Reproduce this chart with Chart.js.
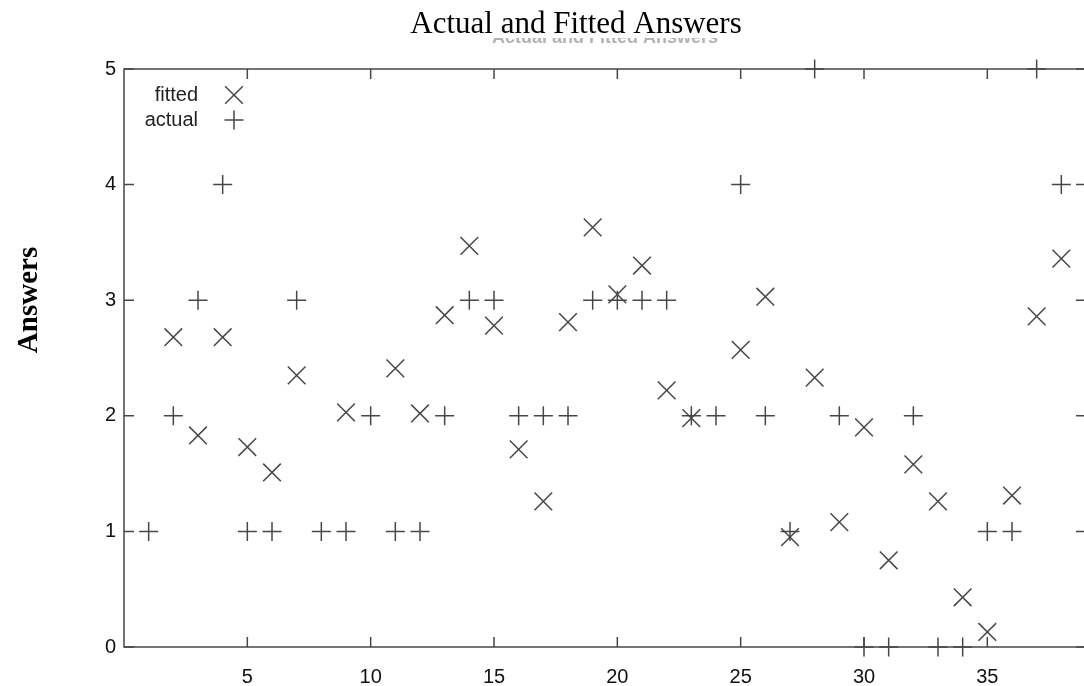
<!DOCTYPE html>
<html>
<head>
<meta charset="utf-8">
<title>Actual and Fitted Answers</title>
<script src="https://cdn.jsdelivr.net/npm/chart.js@4"></script>
<style>
  html, body { margin: 0; padding: 0; background: #fff; overflow: hidden; }
  .scatter-chart { position: relative; width: 1100px; height: 686px; }
</style>
</head>
<body>
<div class="scatter-chart"><canvas id="answers"></canvas></div>
<script>
// question number on x, answer on y
const questionNo = [1, 2, 3, 4, 5, 6, 7, 8, 9, 10, 11, 12, 13, 14, 15, 16, 17, 18, 19,
  20, 21, 22, 23, 24, 25, 26, 27, 28, 29, 30, 31, 32, 33, 34, 35, 36, 37, 38];
const actual = [1, 2, 3, 4, 1, 1, 3, 1, 1, 2, 1, 1, 2, 3, 3, 2, 2, 2, 3,
  3, 3, 3, 2, 2, 4, 2, 1, 5, 2, 0, 0, 2, 0, 0, 1, 1, 5, 4];
const fitted = [null, 2.68, 1.83, 2.68, 1.73, 1.51, 2.35, null, 2.03, null, 2.41, 2.02, 2.87, 3.47, 2.78, 1.71, 1.26, 2.81, 3.63,
  3.05, 3.30, 2.22, 1.98, null, 2.57, 3.03, 0.95, 2.33, 1.08, 1.90, 0.75, 1.58, 1.26, 0.43, 0.13, 1.31, 2.86, 3.36];
const xTicks = [5, 10, 15, 20, 25, 30, 35];
const yTicks = [0, 1, 2, 3, 4, 5];

const INK = "#474747";
const toPoints = (ys) => questionNo
  .map((q, i) => ({ x: q, y: ys[i] }))
  .filter(p => p.y !== null);

// gnuplot style box with inward ticks on all four sides
const frame = {
  id: "frame",
  beforeDatasetsDraw(chart) {
    const { ctx, chartArea: a, scales: { x, y } } = chart;
    ctx.save();
    ctx.strokeStyle = INK;
    ctx.lineWidth = 1.5;
    ctx.strokeRect(a.left, a.top, a.right - a.left, a.bottom - a.top);
    ctx.beginPath();
    xTicks.forEach(v => {
      const px = x.getPixelForValue(v);
      ctx.moveTo(px, a.bottom); ctx.lineTo(px, a.bottom - 10);
      ctx.moveTo(px, a.top); ctx.lineTo(px, a.top + 10);
    });
    yTicks.forEach(v => {
      const py = y.getPixelForValue(v);
      ctx.moveTo(a.left, py); ctx.lineTo(a.left + 10, py);
      ctx.moveTo(a.right, py); ctx.lineTo(a.right - 10, py);
    });
    ctx.stroke();
    ctx.restore();
  },
  afterDraw(chart) {
    const { ctx, chartArea: a } = chart;
    ctx.save();
    // faded title left over underneath, mostly covered
    ctx.beginPath();
    ctx.rect(0, 38, chart.width, 20);
    ctx.clip();
    ctx.fillStyle = "#b3b3b3";
    ctx.font = "bold 18px 'Liberation Sans'";
    ctx.textAlign = "center";
    ctx.textBaseline = "alphabetic";
    ctx.fillText("Actual and Fitted Answers", (a.left + a.right) / 2, 43);
    ctx.restore();

    ctx.save();
    ctx.fillStyle = "#000";
    ctx.font = "31px 'Liberation Serif'";
    ctx.textAlign = "center";
    ctx.textBaseline = "alphabetic";
    ctx.fillText("Actual and Fitted Answers", 576, 33);

    ctx.translate(30, 300);
    ctx.rotate(-Math.PI / 2);
    ctx.font = "bold 29px 'Liberation Serif'";
    ctx.textBaseline = "middle";
    ctx.fillText("Answers", 0, 0);
    ctx.restore();

    // key in the top left corner
    ctx.save();
    ctx.font = "20px 'Liberation Sans'";
    ctx.fillStyle = "#222";
    ctx.textAlign = "right";
    ctx.textBaseline = "middle";
    chart.data.datasets.forEach((ds, i) => {
      const ky = 95 + i * 25;
      ctx.fillText(ds.label, 198, ky);
      ctx.strokeStyle = INK;
      ctx.lineWidth = ds.borderWidth;
      Chart.helpers.drawPoint(ctx, { pointStyle: ds.pointStyle, radius: ds.pointRadius, rotation: 0, borderWidth: ds.borderWidth }, 234, ky);
    });
    ctx.restore();
  }
};

new Chart(document.getElementById("answers"), {
  type: "scatter",
  data: {
    datasets: [
      {
        label: "fitted",
        data: toPoints(fitted),
        pointStyle: "crossRot",
        pointRadius: 12.5,
        pointHoverRadius: 12.5,
        borderColor: INK,
        backgroundColor: INK,
        borderWidth: 1.5,
        clip: false
      },
      {
        label: "actual",
        data: toPoints(actual),
        pointStyle: "cross",
        pointRadius: 9.5,
        pointHoverRadius: 9.5,
        borderColor: INK,
        backgroundColor: INK,
        borderWidth: 1.5,
        clip: false
      }
    ]
  },
  options: {
    responsive: true,
    maintainAspectRatio: false,
    animation: false,
    layout: { padding: { top: 69, right: 9, left: 0, bottom: 0 } },
    plugins: {
      legend: { display: false },
      title: { display: false },
      tooltip: { enabled: false }
    },
    scales: {
      x: {
        type: "linear",
        min: 0,
        max: 39,
        grid: { display: false, drawTicks: false },
        border: { display: false },
        afterBuildTicks: (s) => { s.ticks = xTicks.map(v => ({ value: v })); },
        afterFit: (s) => { s.height = 39; },
        ticks: {
          color: "#111",
          padding: 18,
          maxRotation: 0,
          font: { family: "'Liberation Sans'", size: 20 }
        }
      },
      y: {
        min: 0,
        max: 5,
        grid: { display: false, drawTicks: false },
        border: { display: false },
        afterBuildTicks: (s) => { s.ticks = yTicks.map(v => ({ value: v })); },
        afterFit: (s) => { s.width = 124; },
        ticks: {
          color: "#111",
          padding: 8,
          font: { family: "'Liberation Sans'", size: 20 }
        }
      }
    }
  },
  plugins: [frame]
});
</script>
</body>
</html>
